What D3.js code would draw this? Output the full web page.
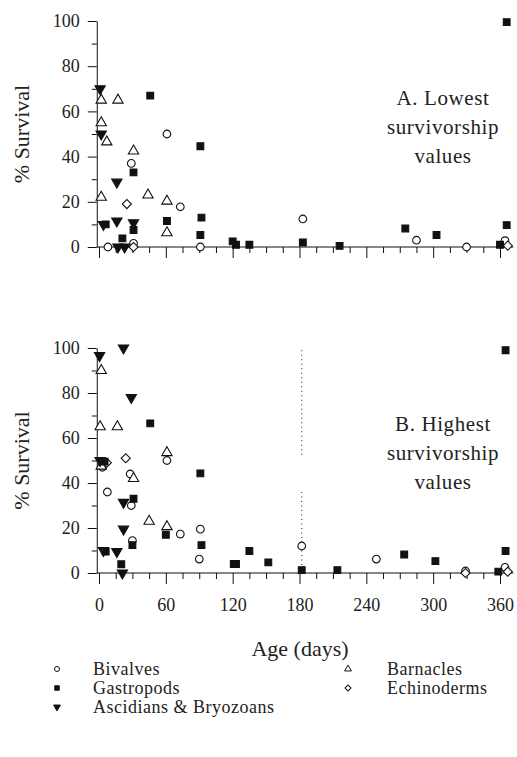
<!DOCTYPE html>
<html>
<head>
<meta charset="utf-8">
<script src="https://cdn.jsdelivr.net/npm/d3@7"></script>
<style>
  body { margin: 0; background: #fff; }
  text { font-family: "Liberation Serif", "DejaVu Serif", serif; fill: #222; }
</style>
</head>
<body>
<svg width="517" height="757"></svg>
<script>
// [day, % survival] pairs
var bivalvesA = [[8,0],[29,37],[31,1.6],[61,50],[73,17.8],[91,0],[183,12.4],[285,3],[330,0],[364.5,2.8]];
var gastropodsA = [[6,10],[21,3.8],[31,33],[31,7.5],[46,67],[61,11.5],[91,44.6],[92,13],[91,5.3],[120,2.5],[123,1],[135,1],[183,2],[216,0.5],[275,8.2],[303,5.3],[360,1],[366,99.5],[366,9.7]];
var ascidiansA = [[1,70],[2,50],[16,28.7],[16,11.5],[4,10],[31,10.7],[17,0],[23,0]];
var barnaclesA = [[2,65],[17,65],[2,55],[7,46.5],[31,42.5],[2,22],[44,23],[61,20.3],[61,6.3]];
var echinodermsA = [[25,19],[31,0],[367,0.6]];

var bivalvesB = [[3,47],[7.5,36],[28,44],[29,30],[30,14.4],[61,50],[73,17.3],[91,19.5],[90,6.2],[182,12],[249,6.2],[329,0.9],[364.5,2.5]];
var gastropodsB = [[5,49.5],[6,9.5],[20,3.9],[31,33],[30,12.4],[46,66.5],[60,17],[91,44.3],[92,12.4],[121,4],[123,4],[135,9.8],[152,4.7],[182,1.3],[214,1.3],[274,8.2],[302,5.3],[358.5,0.6],[365,99],[365,9.8]];
var ascidiansB = [[0.5,96.6],[22,100],[29,78],[1,50],[4,10],[16,9.5],[22,31.4],[22,19.5],[21,0]];
var barnaclesB = [[2,90],[1,65],[16.5,65],[2,47.5],[31,42],[45,23],[61,53.5],[61,20.6]];
var echinodermsB = [[24,51],[7,49],[329,0],[367,0.6]];

// dotted reference line in panel B: [day, from %, to %]
var dottedB = [[182,99,51],[182,36,0]];

var yMajor = [0,20,40,60,80,100];
var yMinor = [10,30,50,70,90];
var xMajor = [0,60,120,180,240,300,360];
var xMinor = [15,30,45,75,90,105,135,150,165,195,210,225,255,270,285,315,330,345];

var groups = ["Bivalves","Gastropods","Ascidians & Bryozoans","Barnacles","Echinoderms"];

var svg = d3.select("svg");

var x = d3.scaleLinear().domain([0, 360]).range([99, 500]);

function markerPath(name, size) {
  if (name === "Bivalves") return d3.symbol().type(d3.symbolCircle).size(size)();
  if (name === "Gastropods") return d3.symbol().type(d3.symbolSquare).size(size)();
  if (name === "Echinoderms") return d3.symbol().type(d3.symbolSquare).size(size * 0.9)();
  return d3.symbol().type(d3.symbolTriangle).size(size)();
}
function markerRotate(name) {
  if (name === "Ascidians & Bryozoans") return 180;
  if (name === "Echinoderms") return 45;
  return 0;
}
function markerFill(name) {
  return (name === "Gastropods" || name === "Ascidians & Bryozoans") ? "#111" : "#fff";
}

function drawPanel(g, y, series, label, showXLabels) {
  var yAxisMajor = d3.axisLeft(y).tickValues(yMajor).tickSize(9).tickPadding(8).tickSizeOuter(0);
  var yAxisMinor = d3.axisLeft(y).tickValues(yMinor).tickSize(5).tickFormat("").tickSizeOuter(0);

  var ya = g.append("g").attr("transform", "translate(" + x(-2) + ",0)").call(yAxisMajor);
  g.append("g").attr("transform", "translate(" + x(-2) + ",0)").call(yAxisMinor)
    .select(".domain").remove();
  ya.attr("font-family", null);
  ya.selectAll("text").style("font-size", "18px");

  var xAxisMajor = d3.axisBottom(x).tickValues(xMajor).tickSize(11).tickPadding(14).tickSizeOuter(0);
  if (!showXLabels) xAxisMajor.tickFormat("");
  var xAxisMinor = d3.axisBottom(x).tickValues(xMinor).tickSize(6).tickFormat("").tickSizeOuter(0);

  var xa = g.append("g").attr("transform", "translate(0," + y(0) + ")").call(xAxisMajor);
  xa.attr("font-family", null);
  xa.select(".domain").remove();
  xa.selectAll("text").style("font-size", "18px");
  g.append("g").attr("transform", "translate(0," + y(0) + ")").call(xAxisMinor)
    .select(".domain").remove();
  g.append("line")
    .attr("x1", x(-2)).attr("x2", x(372))
    .attr("y1", y(0)).attr("y2", y(0))
    .attr("stroke", "#111").attr("stroke-width", 1.2);

  g.selectAll(".tick line").attr("stroke", "#111");
  g.selectAll(".domain").attr("stroke", "#111");

  g.append("text")
    .attr("transform", "translate(29," + y(50) + ") rotate(-90)")
    .attr("text-anchor", "middle")
    .style("font-size", "22px")
    .text("% Survival");

  label.forEach(function(line, i) {
    g.append("text")
      .attr("x", 443)
      .attr("y", y(0) - 142 + i * 29)
      .attr("text-anchor", "middle")
      .style("font-size", "21px")
      .style("letter-spacing", "0.6px")
      .text(line);
  });

  series.forEach(function(s) {
    g.selectAll(null)
      .data(s.data)
      .enter().append("path")
      .attr("d", markerPath(s.name, 46))
      .attr("transform", function(d) {
        return "translate(" + x(d[0]) + "," + y(d[1]) + ") rotate(" + markerRotate(s.name) + ")";
      })
      .attr("fill", markerFill(s.name))
      .attr("stroke", "#111")
      .attr("stroke-width", 1.1);
  });
}

var yA = d3.scaleLinear().domain([0, 100]).range([247, 21]);
var yB = d3.scaleLinear().domain([0, 100]).range([573, 348]);

drawPanel(svg.append("g"), yA, [
  {name: groups[0], data: bivalvesA},
  {name: groups[3], data: barnaclesA},
  {name: groups[4], data: echinodermsA},
  {name: groups[1], data: gastropodsA},
  {name: groups[2], data: ascidiansA}
], ["A. Lowest", "survivorship", "values"], false);

var gB = svg.append("g");
gB.selectAll(null)
  .data(dottedB)
  .enter().append("line")
  .attr("x1", function(d) { return x(d[0]); })
  .attr("x2", function(d) { return x(d[0]); })
  .attr("y1", function(d) { return yB(d[1]); })
  .attr("y2", function(d) { return yB(d[2]); })
  .attr("stroke", "#444")
  .attr("stroke-width", 1.2)
  .attr("stroke-dasharray", "1,3.5");

drawPanel(gB, yB, [
  {name: groups[0], data: bivalvesB},
  {name: groups[3], data: barnaclesB},
  {name: groups[4], data: echinodermsB},
  {name: groups[1], data: gastropodsB},
  {name: groups[2], data: ascidiansB}
], ["B. Highest", "survivorship", "values"], true);

svg.append("text")
  .attr("x", 300)
  .attr("y", 656)
  .attr("text-anchor", "middle")
  .style("font-size", "22px")
  .text("Age (days)");

// legend
var legendPos = [[57,669],[57,688],[57,707],[348,669],[348,688]];
var legend = svg.append("g");
groups.forEach(function(name, i) {
  var p = legendPos[i];
  legend.append("path")
    .attr("d", markerPath(name, 20))
    .attr("transform", "translate(" + p[0] + "," + p[1] + ") rotate(" + markerRotate(name) + ")")
    .attr("fill", markerFill(name))
    .attr("stroke", "#111")
    .attr("stroke-width", 1);
  legend.append("text")
    .attr("x", p[0] + (i < 3 ? 36 : 39))
    .attr("y", p[1] + 6)
    .style("font-size", "18px")
    .style("letter-spacing", "0.5px")
    .text(name);
});
</script>
</body>
</html>
